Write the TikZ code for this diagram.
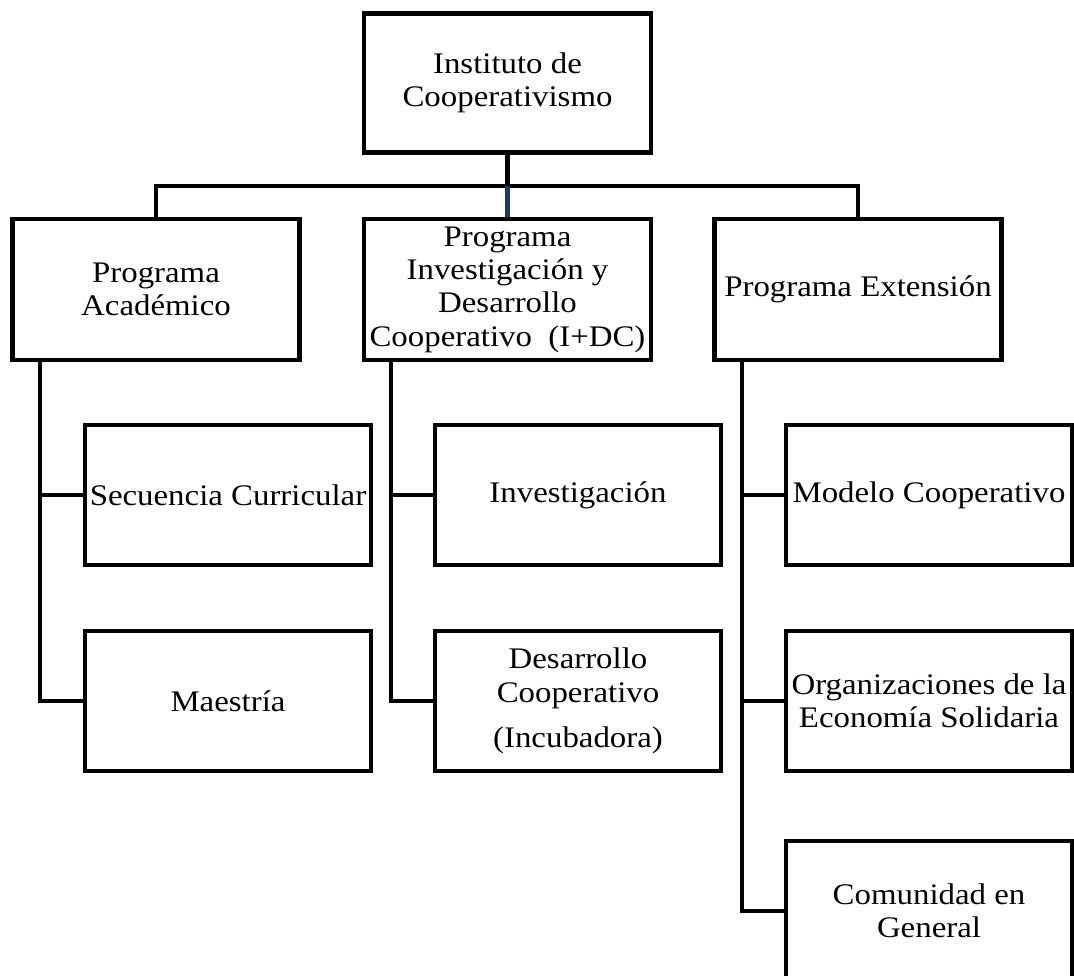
\documentclass[tikz,border=0pt]{standalone}
\usepackage{fontspec}
\setmainfont{Liberation Serif}[FakeStretch=1.1]
\definecolor{busblue}{RGB}{31,56,100}
\tikzset{
  box/.style={draw, line width=2.8pt, fill=white, align=center, inner sep=1pt,
    font=\fontsize{17}{19}\selectfont},
  top/.style={box, minimum width=5.74cm, minimum height=2.78cm},
  prog/.style={box, minimum width=5.74cm, minimum height=2.82cm},
  sub/.style={box, minimum width=5.72cm, minimum height=2.80cm},
  conn/.style={line width=2.8pt}
}
\begin{document}
\begin{tikzpicture}
  \useasboundingbox (0,0) rectangle (21.48,-19.5);
  \node[top] (inst) at (10.15,-1.66) {Instituto de\\Cooperativismo};
  \node[prog] (acad) at (3.12,-5.79) {Programa\\Académico};
  \node[prog] (idc) at (10.15,-5.79) {Programa\\Investigación y\\Desarrollo\\Cooperativo~ (I+DC)};
  \node[prog] (ext) at (17.16,-5.79) {Programa Extensión};
  \node[sub] (sec) at (4.56,-9.90) {Secuencia Curricular};
  \node[sub] (mae) at (4.56,-14.02) {Maestría};
  \node[sub] (inv) at (11.56,-9.90) {Investigación};
  \node[sub] (des) at (11.56,-14.02) {Desarrollo\\Cooperativo\\[7pt](Incubadora)};
  \node[sub] (mod) at (18.58,-9.90) {Modelo Cooperativo};
  \node[sub] (org) at (18.58,-14.02) {Organizaciones de la\\Economía Solidaria};
  \node[sub] (com) at (18.58,-18.22) {Comunidad en\\General};
  \coordinate (bus) at (10.15,-3.72);
  \coordinate (acadt) at (0.80,-7.20);
  \coordinate (idct) at (7.82,-7.20);
  \coordinate (extt) at (14.84,-7.20);
  \draw[conn] (acad.north) |- (bus) -| (ext.north);
  \draw[conn] (inst.south) -- (bus);
  \draw[conn,busblue] (bus) -- (idc.north);
  \draw[conn] (acadt) |- (sec.west);
  \draw[conn] (acadt) |- (mae.west);
  \draw[conn] (idct) |- (inv.west);
  \draw[conn] (idct) |- (des.west);
  \draw[conn] (extt) |- (mod.west);
  \draw[conn] (extt) |- (org.west);
  \draw[conn] (extt) |- (com.west);
\end{tikzpicture}
\end{document}
